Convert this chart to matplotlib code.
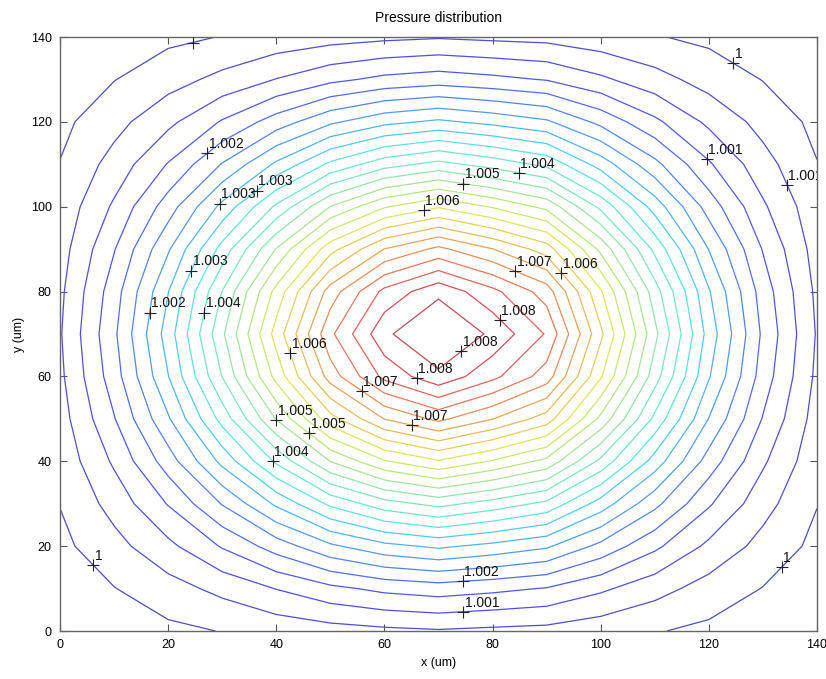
import numpy as np
import matplotlib
matplotlib.use('Agg')
import matplotlib.pyplot as plt
from matplotlib.transforms import offset_copy

plt.rcParams['font.family'] = ['Liberation Sans', 'DejaVu Sans']

# ------------------------------------------------------------------ #
# Data                                           #
# ------------------------------------------------------------------ #

# grid nodes (um)
x_um = [0, 10, 20, 30, 40, 50, 60, 70, 80, 90, 100, 110, 120, 130, 140]
y_um = [0, 10, 20, 30, 40, 50, 60, 70, 80, 90, 100, 110, 120, 130, 140]

# pressure at the nodes, one row per y (bottom -> top)
pressure = [
    [1.00024, 1.00030, 1.00038, 1.00046, 1.00056, 1.00064, 1.00070, 1.00074, 1.00070, 1.00067, 1.00057, 1.00047, 1.00038, 1.00030, 1.00024],
    [1.00030, 1.00044, 1.00064, 1.00086, 1.00110, 1.00133, 1.00149, 1.00157, 1.00149, 1.00139, 1.00115, 1.00089, 1.00064, 1.00044, 1.00030],
    [1.00037, 1.00066, 1.00101, 1.00144, 1.00188, 1.00231, 1.00260, 1.00275, 1.00260, 1.00242, 1.00196, 1.00148, 1.00102, 1.00066, 1.00037],
    [1.00046, 1.00089, 1.00143, 1.00207, 1.00275, 1.00340, 1.00384, 1.00407, 1.00384, 1.00357, 1.00287, 1.00214, 1.00145, 1.00089, 1.00046],
    [1.00055, 1.00114, 1.00189, 1.00278, 1.00371, 1.00462, 1.00522, 1.00554, 1.00522, 1.00484, 1.00389, 1.00287, 1.00191, 1.00114, 1.00055],
    [1.00063, 1.00139, 1.00233, 1.00345, 1.00463, 1.00577, 1.00654, 1.00693, 1.00654, 1.00606, 1.00485, 1.00357, 1.00236, 1.00139, 1.00063],
    [1.00070, 1.00158, 1.00268, 1.00398, 1.00536, 1.00668, 1.00758, 1.00804, 1.00758, 1.00702, 1.00561, 1.00412, 1.00272, 1.00158, 1.00070],
    [1.00074, 1.00167, 1.00284, 1.00423, 1.00570, 1.00710, 1.00805, 1.00855, 1.00805, 1.00746, 1.00596, 1.00438, 1.00288, 1.00167, 1.00074],
    [1.00070, 1.00158, 1.00268, 1.00398, 1.00536, 1.00668, 1.00758, 1.00804, 1.00758, 1.00702, 1.00561, 1.00412, 1.00272, 1.00158, 1.00070],
    [1.00063, 1.00139, 1.00233, 1.00345, 1.00463, 1.00577, 1.00654, 1.00693, 1.00654, 1.00606, 1.00485, 1.00357, 1.00236, 1.00139, 1.00063],
    [1.00055, 1.00114, 1.00189, 1.00278, 1.00371, 1.00462, 1.00522, 1.00554, 1.00522, 1.00484, 1.00389, 1.00287, 1.00191, 1.00114, 1.00055],
    [1.00046, 1.00089, 1.00143, 1.00207, 1.00275, 1.00340, 1.00384, 1.00407, 1.00384, 1.00357, 1.00287, 1.00214, 1.00145, 1.00089, 1.00046],
    [1.00037, 1.00066, 1.00101, 1.00144, 1.00188, 1.00231, 1.00260, 1.00275, 1.00260, 1.00242, 1.00196, 1.00148, 1.00102, 1.00066, 1.00037],
    [1.00030, 1.00044, 1.00064, 1.00086, 1.00110, 1.00133, 1.00149, 1.00157, 1.00149, 1.00139, 1.00115, 1.00089, 1.00064, 1.00044, 1.00030],
    [1.00024, 1.00030, 1.00038, 1.00046, 1.00056, 1.00064, 1.00070, 1.00074, 1.00070, 1.00067, 1.00057, 1.00047, 1.00038, 1.00030, 1.00024],
]

# contour levels
levels = [1.00045, 1.00077, 1.00109, 1.00141, 1.00173, 1.00205, 1.00237,
          1.00269, 1.00301, 1.00333, 1.00365, 1.00397, 1.00429, 1.00461,
          1.00493, 1.00525, 1.00557, 1.00589, 1.00621, 1.00653, 1.00685,
          1.00717, 1.00749, 1.00781, 1.00813]

# clabel-style labels: approximate spot and the text shown there
label_x = [24.5, 124.6, 5.9, 133.2, 27.9, 28.0, 36.7, 23.3, 16.3, 26.4,
           66.9, 74.5, 84.6, 120.9, 134.8, 84.3, 91.8, 83.8, 74.2, 65.6,
           56.6, 42.1, 38.8, 46.5, 39.6, 64.6, 74.6, 74.6]
label_y = [138.8, 133.9, 15.3, 15.3, 112.0, 102.0, 103.5, 85.3, 75.1, 75.1,
           100.7, 105.0, 107.1, 112.5, 105.3, 85.0, 83.8, 75.3, 65.9, 58.8,
           57.4, 65.3, 48.7, 47.0, 40.3, 47.0, 11.0, 4.3]
label_txt = ['1', '1', '1', '1', '1.002', '1.003', '1.003', '1.003', '1.002',
             '1.004', '1.006', '1.005', '1.004', '1.001', '1.001', '1.007',
             '1.006', '1.008', '1.008', '1.008', '1.007', '1.006', '1.005',
             '1.005', '1.004', '1.007', '1.002', '1.001']


# ------------------------------------------------------------------ #
# Helpers                                                              #
# ------------------------------------------------------------------ #

def nearest_on_level(segs, px, py):
    """Closest point to (px, py) on a list of polylines."""
    best_d, best_q = np.inf, None
    for seg in segs:
        if len(seg) < 2:
            continue
        a, b = seg[:-1], seg[1:]
        ab = b - a
        l2 = (ab ** 2).sum(1)
        l2[l2 == 0] = 1e-12
        t = ((px - a[:, 0]) * ab[:, 0] + (py - a[:, 1]) * ab[:, 1]) / l2
        t = np.clip(t, 0, 1)
        q = a + ab * t[:, None]
        d = np.hypot(q[:, 0] - px, q[:, 1] - py)
        i = d.argmin()
        if d[i] < best_d:
            best_d, best_q = d[i], q[i]
    return best_d, best_q


# ------------------------------------------------------------------ #
# Figure                                                               #
# ------------------------------------------------------------------ #

Z = np.array(pressure)
X, Y = np.meshgrid(x_um, y_um)

# jet colours, washed out like the scanned original
norm = plt.Normalize(Z.min(), Z.max())
wash = np.array([0.75, 0.75, 0.85])
line_colors = [tuple(0.6 * np.array(plt.cm.jet(norm(lev))[:3]) + 0.4 * wash)
               for lev in levels]

fig = plt.figure(figsize=(8.26, 6.79), dpi=100)
ax = fig.add_axes([60 / 826, 48 / 679, 757 / 826, 594 / 679])

cs = ax.contour(X, Y, Z, levels=levels, colors=line_colors, linewidths=0.9)

# '+' marker on the line, value up and to the right (MATLAB clabel look)
txt_tr = offset_copy(ax.transData, fig=fig, x=1.0, y=1.5, units='points')
for lx, ly, txt in zip(label_x, label_y, label_txt):
    cand = [i for i, lev in enumerate(levels) if f'{lev:.4g}' == txt]
    best_d, best_q = np.inf, (lx, ly)
    for i in cand:
        d, q = nearest_on_level(cs.allsegs[i], lx, ly)
        if q is not None and d < best_d:
            best_d, best_q = d, q
    qx, qy = best_q
    ax.plot(qx, qy, '+', color='#222222', ms=8, mew=0.8, clip_on=False,
            zorder=5)
    ax.text(qx, qy, txt, transform=txt_tr, fontsize=10, ha='left',
            va='bottom', color='#111111', clip_on=True, zorder=6)

ax.set_xlim(0, 140)
ax.set_ylim(0, 140)
ax.set_xticks(range(0, 141, 20))
ax.set_yticks(range(0, 141, 20))
ax.tick_params(direction='in', top=True, right=True, length=5, width=0.8,
               color='#555555', labelsize=9, pad=6)
for sp in ax.spines.values():
    sp.set_color('#666666')
    sp.set_linewidth(1.0)

ax.set_title('Pressure distribution', fontsize=10, pad=11)
ax.set_xlabel('x (um)', fontsize=9, labelpad=4)
ax.set_ylabel('y (um)', fontsize=9, labelpad=4)

fig.savefig('out.png', dpi=100)
